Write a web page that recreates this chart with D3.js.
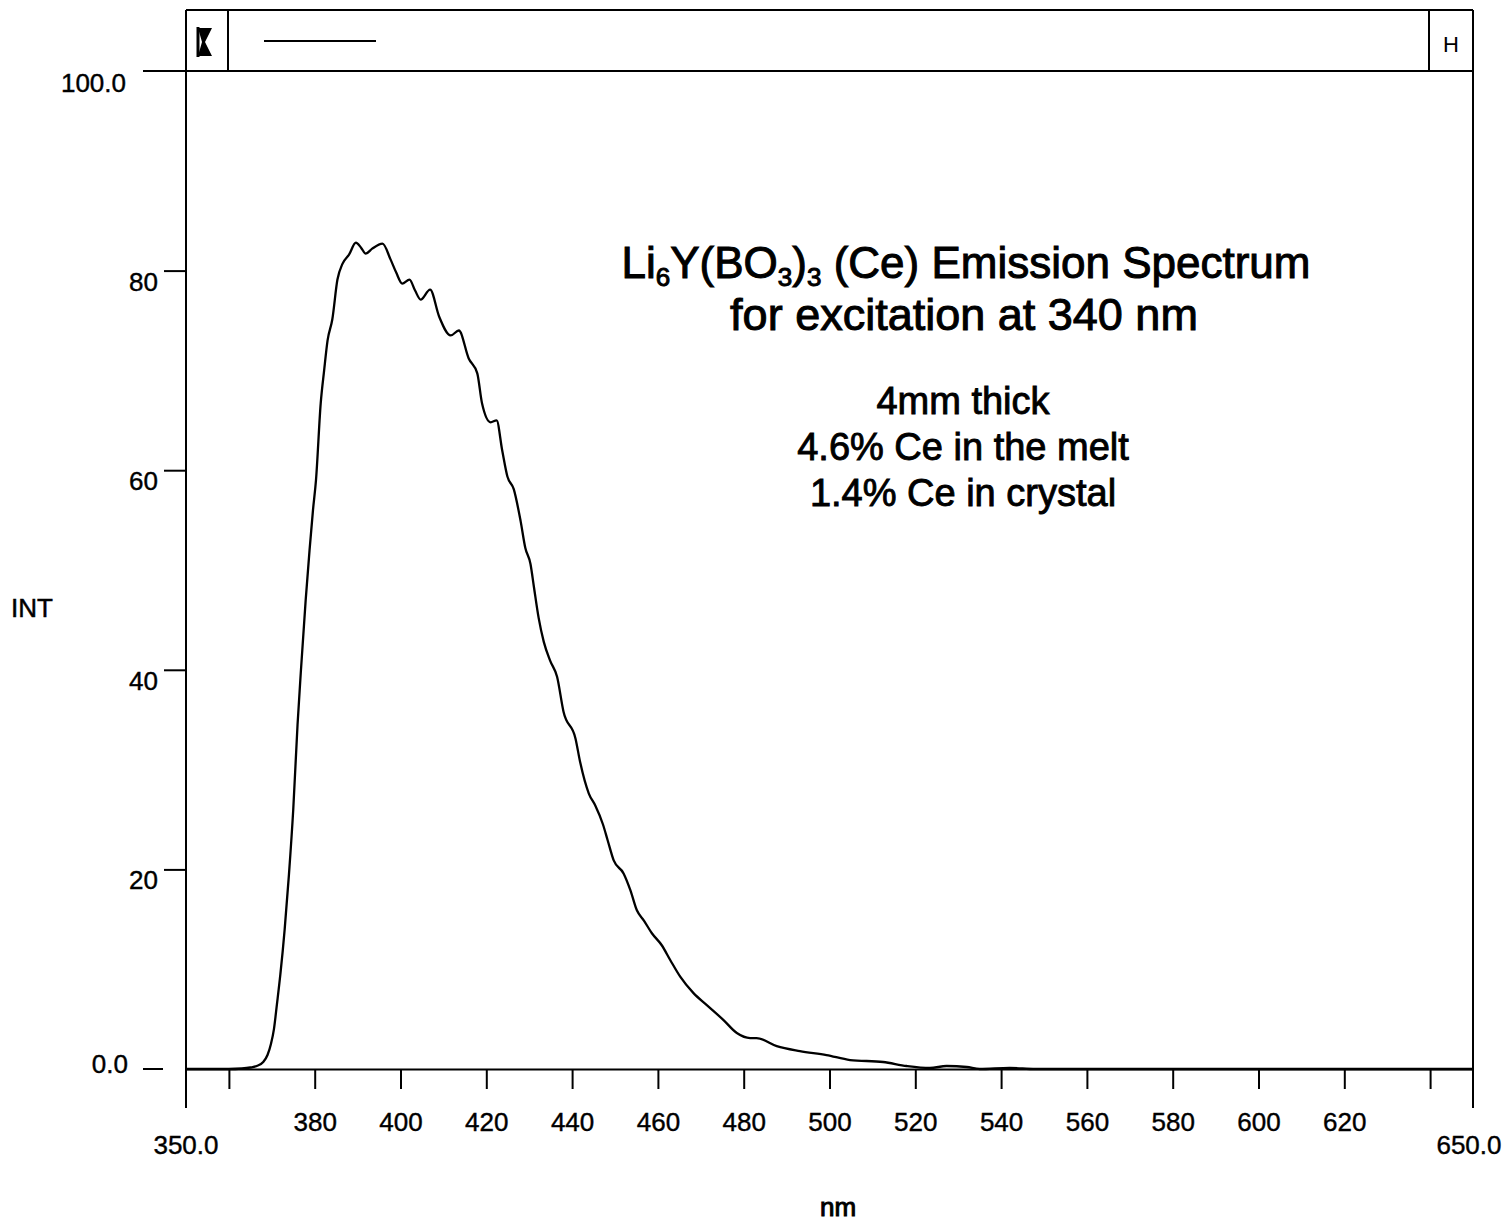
<!DOCTYPE html>
<html>
<head>
<meta charset="utf-8">
<script src="https://cdn.jsdelivr.net/npm/d3@7"></script>
<style>
  body { margin: 0; background: #fff; }
  svg { display: block; font-family: "Liberation Sans", Arial, sans-serif; }
</style>
</head>
<body>
<div id="graph"></div>
<script>
// wavelength (nm)
const wavelengths = [350, 360, 363, 365, 366.5, 368, 369, 369.8, 370.5, 371.2, 372, 373, 374, 375, 376, 376.8,
  377.9, 378.8, 379.6, 380.3, 381.4, 382.2, 383, 384.1, 385.3, 386.5, 388, 389.6, 390.8, 391.9, 393.4,
  395.8, 397.7, 399, 400.4, 402.1, 403.4, 404.7, 406.9, 409, 411.7, 413.6, 415.9, 417.9, 419, 421,
  422.4, 423.7, 424.9, 426.4, 428, 429.1, 430.3, 431.1, 432.2, 433.4, 434.9, 436.5, 438, 440.8, 441.9,
  443.9, 445.4, 447.2, 448.3, 449.7, 452, 453.6, 455.1, 456.7, 458.6, 460.9, 462.9, 465.2, 468.3,
  471.4, 475.3, 478.4, 481.5, 483, 487.7, 493.1, 499.3, 504.8, 512.5, 518, 523.4, 527.3, 532, 535,
  542, 548, 560, 600, 650];
// intensity (INT)
const intensities = [0, 0, 0.05, 0.15, 0.3, 0.7, 1.4, 2.5, 4, 6.5, 9.5, 14, 19.5, 26, 34.5, 40,
  47, 52, 56, 59, 66.7, 70, 73, 75.1, 79.1, 80.7, 81.6, 82.8, 82.3, 81.7, 82.2,
  82.7, 81.1, 79.8, 78.7, 79.1, 78, 77.1, 78.1, 75.4, 73.5, 74, 71.2, 69.7, 66.7, 64.8,
  65, 62, 59.4, 58.1, 54.9, 52.2, 50.6, 48.3, 45.2, 42.8, 40.9, 39.3, 35.8, 33.1, 30.7,
  27.6, 26.4, 24.5, 22.9, 20.9, 19.6, 17.9, 15.9, 14.9, 13.6, 12.4, 10.9, 9.25, 7.6,
  6.4, 4.9, 3.6, 3.1, 3.1, 2.3, 1.8, 1.4, 0.9, 0.7, 0.3, 0.1, 0.3, 0.2, 0,
  0.1, 0, 0, 0, 0];

const xTicks = d3.range(360, 641, 20);
const xLabeled = d3.range(380, 621, 20);
const yTicks = [20, 40, 60, 80];
const noteLines = ['4mm thick', '4.6% Ce in the melt', '1.4% Ce in crystal'];

const width = 1505;
const height = 1225;
const labelSize = 26;

const svg = d3.select('#graph')
  .append('svg')
  .attr('width', width)
  .attr('height', height);

const x = d3.scaleLinear().domain([350, 650]).range([186, 1473]);
const y = d3.scaleLinear().domain([0, 100]).range([1069, 71]);

const [x0, x1] = x.range();
const frameTop = 10;
const frameBottom = 1108;

// 文字を少し太らせる（スキャンの見た目に合わせる）
function ink(sel, w) {
  return sel.attr('fill', '#000').attr('stroke', '#000').attr('stroke-width', w);
}

// 枠線
const frame = svg.append('g').attr('stroke', '#000').attr('stroke-width', 2).attr('fill', 'none');
frame.append('line').attr('x1', x0).attr('x2', x0).attr('y1', frameTop).attr('y2', frameBottom);
frame.append('line').attr('x1', x1).attr('x2', x1).attr('y1', frameTop).attr('y2', frameBottom);
frame.append('line').attr('x1', x0).attr('x2', x1).attr('y1', frameTop).attr('y2', frameTop);
frame.append('line').attr('x1', 143).attr('x2', x1).attr('y1', y(100)).attr('y2', y(100));
frame.append('line').attr('x1', x0 + 42).attr('x2', x0 + 42).attr('y1', frameTop).attr('y2', y(100));
frame.append('line').attr('x1', x1 - 44).attr('x2', x1 - 44).attr('y1', frameTop).attr('y2', y(100));
frame.append('line').attr('x1', 264).attr('x2', 376).attr('y1', 41).attr('y2', 41);

// 左上のマーク
const mx = x0 + 20;
svg.append('path')
  .attr('d', `M${mx - 8},28 L${mx + 6},28 L${mx - 1},42 L${mx + 6},56 L${mx - 8},56 L${mx - 4},42 Z`)
  .attr('fill', '#000');
svg.append('line').attr('x1', mx - 8).attr('x2', mx - 8).attr('y1', 27).attr('y2', 57)
  .attr('stroke', '#000').attr('stroke-width', 3);
svg.append('text').attr('x', x1 - 22).attr('y', 52).attr('text-anchor', 'middle')
  .attr('font-size', 22).text('H');

// 横軸
const xAxis = svg.append('g')
  .attr('transform', `translate(0,${y(0)})`)
  .call(d3.axisBottom(x).tickValues(xTicks).tickSize(20).tickSizeOuter(0).tickPadding(24)
    .tickFormat(d => xLabeled.includes(d) ? d : ''));
xAxis.select('.domain').attr('stroke-width', 2);
xAxis.selectAll('.tick line').attr('stroke-width', 2);
ink(xAxis.selectAll('.tick text').attr('font-size', labelSize), 0.4);

ink(svg.append('text').attr('x', x0).attr('y', 1154).attr('text-anchor', 'middle')
  .attr('font-size', labelSize).text('350.0'), 0.4);
ink(svg.append('text').attr('x', x1 - 4).attr('y', 1154).attr('text-anchor', 'middle')
  .attr('font-size', labelSize).text('650.0'), 0.4);

// 縦軸
const yAxis = svg.append('g')
  .attr('transform', `translate(${x0},0)`)
  .call(d3.axisLeft(y).tickValues(yTicks).tickSize(22).tickSizeOuter(0).tickPadding(6)
    .tickFormat(d3.format('d')));
yAxis.select('.domain').remove();
yAxis.selectAll('.tick line').attr('stroke-width', 2);
ink(yAxis.selectAll('.tick text').attr('font-size', labelSize).attr('dy', '0.75em'), 0.4);

svg.append('line').attr('x1', 143).attr('x2', 163).attr('y1', y(0)).attr('y2', y(0))
  .attr('stroke', '#000').attr('stroke-width', 2);
ink(svg.append('text').attr('x', 128).attr('y', y(0) + 4).attr('text-anchor', 'end')
  .attr('font-size', labelSize).text('0.0'), 0.4);
ink(svg.append('text').attr('x', 126).attr('y', y(100) + 21).attr('text-anchor', 'end')
  .attr('font-size', labelSize).text('100.0'), 0.4);

ink(svg.append('text').attr('x', 11).attr('y', 617).attr('font-size', labelSize).text('INT'), 0.5);
ink(svg.append('text').attr('x', 838).attr('y', 1216).attr('text-anchor', 'middle')
  .attr('font-size', labelSize).text('nm'), 1);

// スペクトル
const points = wavelengths.map((d, i) => ({ nm: d, v: intensities[i] }));
svg.append('path')
  .datum(points)
  .attr('fill', 'none')
  .attr('stroke', '#000')
  .attr('stroke-width', 2.3)
  .attr('stroke-linejoin', 'round')
  .attr('d', d3.line().x(d => x(d.nm)).y(d => y(d.v)).curve(d3.curveMonotoneX));

// タイトル
const title = ink(svg.append('text').attr('x', 966).attr('y', 278).attr('text-anchor', 'middle')
  .attr('font-size', 44), 1);
title.append('tspan').text('Li');
title.append('tspan').attr('font-size', 26).attr('dy', 8).text('6');
title.append('tspan').attr('dy', -8).text('Y(BO');
title.append('tspan').attr('font-size', 26).attr('dy', 8).text('3');
title.append('tspan').attr('dy', -8).text(')');
title.append('tspan').attr('font-size', 26).attr('dy', 8).text('3');
title.append('tspan').attr('dy', -8).text(' (Ce) Emission Spectrum');

ink(svg.append('text').attr('x', 964).attr('y', 330).attr('text-anchor', 'middle')
  .attr('font-size', 45).text('for excitation at 340 nm'), 1);

ink(svg.selectAll('.note')
  .data(noteLines)
  .enter()
  .append('text')
  .attr('class', 'note')
  .attr('x', 963)
  .attr('y', (d, i) => 414 + i * 46)
  .attr('text-anchor', 'middle')
  .attr('font-size', 38)
  .text(d => d), 0.9);
</script>
</body>
</html>
